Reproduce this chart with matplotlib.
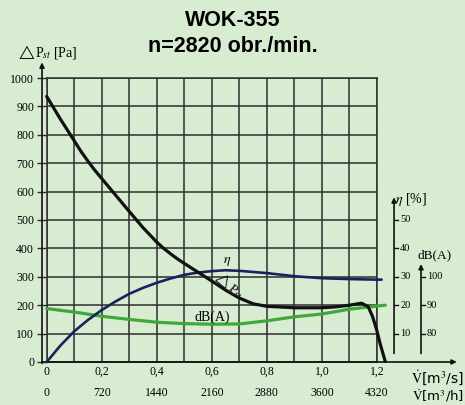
import numpy as np
import matplotlib.pyplot as plt
from matplotlib.ticker import MultipleLocator

plt.rcParams['mathtext.fontset'] = 'stix'
SERIF = ['Liberation Serif', 'DejaVu Serif']

# --- dane odczytane z karty (WOK-355) ---
# spręż statyczny dP_st [Pa] w funkcji wydatku V [m3/s]
q_p = [0, 0.05, 0.1, 0.125, 0.15, 0.175, 0.2, 0.25, 0.3, 0.35, 0.4, 0.425, 0.45, 0.475,
       0.5, 0.55, 0.6, 0.65, 0.7, 0.75, 0.8, 0.9, 1.0, 1.05, 1.1, 1.144, 1.168, 1.184,
       1.199, 1.211, 1.23]
p_st = [935, 855, 779, 741, 707, 675, 646, 588, 530, 473, 422, 400, 381, 363,
        347, 316, 285, 253, 225, 205, 196, 191, 191, 194, 200, 207, 195, 160,
        113, 66, 2]

# sprawność eta [%]
q_eta = [0, 0.05, 0.1, 0.15, 0.2, 0.25, 0.3, 0.35, 0.4, 0.45, 0.5, 0.55, 0.6, 0.65,
         0.7, 0.8, 0.9, 1.0, 1.1, 1.2, 1.217]
eta = [0, 5.8, 10.8, 14.8, 18.3, 21.3, 24.0, 26.1, 27.9, 29.4, 30.7, 31.5, 32.0, 32.3,
       32.1, 31.3, 30.2, 29.5, 29.2, 29.0, 29.0]

# poziom hałasu dB(A)
q_db = [0, 0.1, 0.2, 0.3, 0.4, 0.5, 0.6, 0.7, 0.8, 0.9, 1.0, 1.1, 1.2, 1.23]
db = [88.8, 87.6, 86.1, 85.0, 84.0, 83.5, 83.3, 83.4, 84.5, 85.9, 86.9, 88.6, 89.7, 90.0]

ticks_pa = list(range(0, 1001, 100))
ticks_q = [0, 0.2, 0.4, 0.6, 0.8, 1.0, 1.2]
labels_q = ['0', '0,2', '0,4', '0,6', '0,8', '1,0', '1,2']
ticks_qh = [0, 720, 1440, 2160, 2880, 3600, 4320]
ticks_eta = [10, 20, 30, 40, 50]
ticks_db = [80, 90, 100]

bg = '#d8ecd2'
gridc = '#2e2e2e'


# skale pomocnicze -> wspolna os Pa
def eta2pa(e):
    return np.asarray(e) * 10.0


def db2pa(d):
    return (np.asarray(d) - 70.0) * 10.0


fig = plt.figure(figsize=(4.65, 4.05), dpi=100)
fig.patch.set_facecolor(bg)
ax = fig.add_axes([0.1004, 0.1062, 0.7103, 0.7012])
ax.set_facecolor(bg)
ax.set_xlim(0, 1.2)
ax.set_ylim(0, 1000)

ax.set_xticks(ticks_q)
ax.set_xticklabels(labels_q, family=SERIF, fontsize=8.5)
ax.xaxis.set_minor_locator(MultipleLocator(0.1))
ax.set_yticks(ticks_pa)
ax.set_yticklabels([str(t) for t in ticks_pa], family=SERIF, fontsize=8.5)
ax.tick_params(axis='x', which='both', length=0, pad=3)
ax.tick_params(axis='y', length=7, width=1, color=gridc, pad=2)
ax.grid(which='both', color=gridc, lw=1.1)
for s in ax.spines.values():
    s.set_color(gridc)
    s.set_linewidth(1.1)

# druga linia opisow osi X  [m3/h]
sec = ax.secondary_xaxis(-0.088, functions=(lambda q: q * 3600, lambda h: h / 3600))
sec.set_xticks(ticks_qh)
sec.set_xticklabels([str(t) for t in ticks_qh], family=SERIF, fontsize=8.5)
sec.tick_params(length=0, pad=0)
sec.spines['bottom'].set_visible(False)

# krzywe
ax.plot(q_p, p_st, color='#111111', lw=2.3, solid_capstyle='round',
        solid_joinstyle='round', clip_on=False, zorder=5)
ax.plot(q_eta, eta2pa(eta), color='#1b2160', lw=1.9, solid_capstyle='round',
        solid_joinstyle='round', clip_on=False, zorder=4)
ax.plot(q_db, db2pa(db), color='#3ea83a', lw=2.3, solid_capstyle='round',
        solid_joinstyle='round', clip_on=False, zorder=3)

arrow = dict(arrowstyle='-|>', color='#111111', lw=1.2, mutation_scale=7, shrinkA=0, shrinkB=0)

# os Y [Pa]
ax.annotate('', xy=(-0.017, 1055), xytext=(-0.017, -5), arrowprops=arrow, annotation_clip=False)
ax.text(-0.11, 1092, r'$\triangle$P$_{\!st}$ [Pa]', family=SERIF, fontsize=10,
        ha='left', va='center', clip_on=False)

# os X
ax.annotate('', xy=(1.49, 0), xytext=(-0.017, 0), arrowprops=arrow, annotation_clip=False)
ax.text(1.515, -56, r'$\dot{\mathrm{V}}$[m$^3$/s]', fontsize=10, ha='right', va='center')
ax.text(1.515, -119, r'$\dot{\mathrm{V}}$[m$^3$/h]', fontsize=9.5, ha='right', va='center')

# os sprawnosci
x_eta = 1.262
ax.annotate('', xy=(x_eta, 580), xytext=(x_eta, 30), arrowprops=arrow, annotation_clip=False)
for t in ticks_eta:
    ax.plot([x_eta, x_eta + 0.013], [eta2pa(t)] * 2, color='#111111', lw=1, clip_on=False)
    ax.text(x_eta + 0.022, eta2pa(t), str(t), family=SERIF, fontsize=7.5, ha='left', va='center')
ax.text(x_eta + 0.005, 572, r'$\eta$ [%]', family=SERIF, fontsize=10, ha='left', va='center')

# os halasu
x_db = 1.36
ax.annotate('', xy=(x_db, 345), xytext=(x_db, 30), arrowprops=arrow, annotation_clip=False)
for t in ticks_db:
    ax.plot([x_db, x_db + 0.013], [db2pa(t)] * 2, color='#111111', lw=1, clip_on=False)
    ax.text(x_db + 0.022, db2pa(t), str(t), family=SERIF, fontsize=7.5, ha='left', va='center')
ax.text(x_db + 0.05, 375, 'dB(A)', family=SERIF, fontsize=9.5, ha='center', va='center')

# opisy krzywych
ax.text(0.655, 355, r'$\eta$', fontsize=10, ha='center', va='center')
ax.text(0.665, 272, r'$\triangle$P$_{\!st}$', family=SERIF, fontsize=9.5, rotation=-40,
        ha='center', va='center')
ax.text(0.60, 158, 'dB(A)', family=SERIF, fontsize=10, ha='center', va='center')

fig.text(0.5, 0.949, 'WOK-355', family=['Liberation Sans', 'DejaVu Sans'],
         fontsize=15.5, fontweight='bold', ha='center', va='center')
fig.text(0.5, 0.884, 'n=2820 obr./min.', family=['Liberation Sans', 'DejaVu Sans'],
         fontsize=15.5, fontweight='bold', ha='center', va='center')

fig.savefig('out.png', dpi=100, facecolor=bg)
